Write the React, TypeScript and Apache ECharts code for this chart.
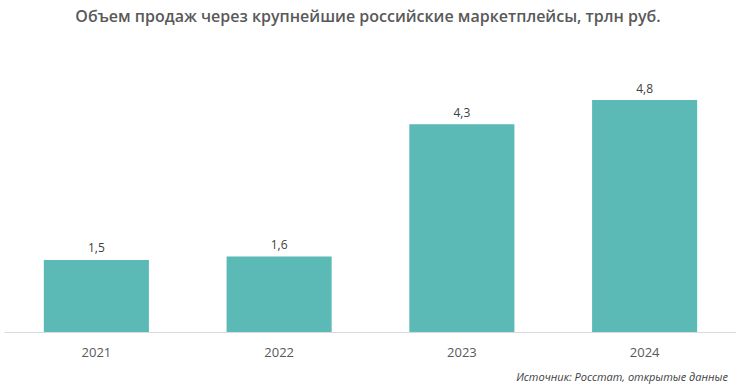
import React, { useEffect, useRef } from "react";
import * as echarts from "echarts";

const title = "Объем продаж через крупнейшие российские маркетплейсы, трлн руб.";
const source = "Источник: Росстат, открытые данные";
const years = ["2021", "2022", "2023", "2024"];
const volumes = [1.49, 1.56, 4.3, 4.8];

export default function App() {
  const ref = useRef<HTMLDivElement>(null);
  useEffect(() => {
    const chart = echarts.init(ref.current!, null, { renderer: "svg" });
    chart.setOption({
      animation: false,
      backgroundColor: "#ffffff",
      textStyle: { fontFamily: "Open Sans" },
      title: [
        {
          text: title,
          left: "center",
          top: 3,
          textStyle: { fontFamily: "Open Sans", fontSize: 16, fontWeight: 600, color: "#595959" },
        },
        {
          text: source,
          right: 3,
          top: 366,
          textStyle: { fontFamily: "Open Sans", fontSize: 11, fontStyle: "italic", fontWeight: "normal", color: "#404040" },
        },
      ],
      grid: { left: 5, right: 0, top: 42, bottom: 60, containLabel: false },
      xAxis: {
        type: "category",
        data: years,
        axisLine: { show: true, lineStyle: { color: "#d9d9d9", width: 1 } },
        axisTick: { show: false },
        axisLabel: { color: "#595959", fontSize: 13, margin: 13, fontFamily: "Open Sans" },
      },
      yAxis: {
        type: "value",
        min: 0,
        max: 6,
        show: false,
        splitLine: { show: false },
      },
      series: [
        {
          type: "bar",
          data: volumes,
          barWidth: "57.5%",
          itemStyle: { color: "#5bbab5" },
          label: {
            show: true,
            position: "top",
            distance: 6,
            color: "#404040",
            fontSize: 12,
            fontFamily: "Open Sans",
            formatter: (p: any) => p.value.toFixed(1).replace(".", ","),
          },
        },
      ],
    });
    return () => chart.dispose();
  }, []);
  return <div ref={ref} style={{ position: "absolute", left: 0, top: 0, width: 736, height: 392 }} />;
}
